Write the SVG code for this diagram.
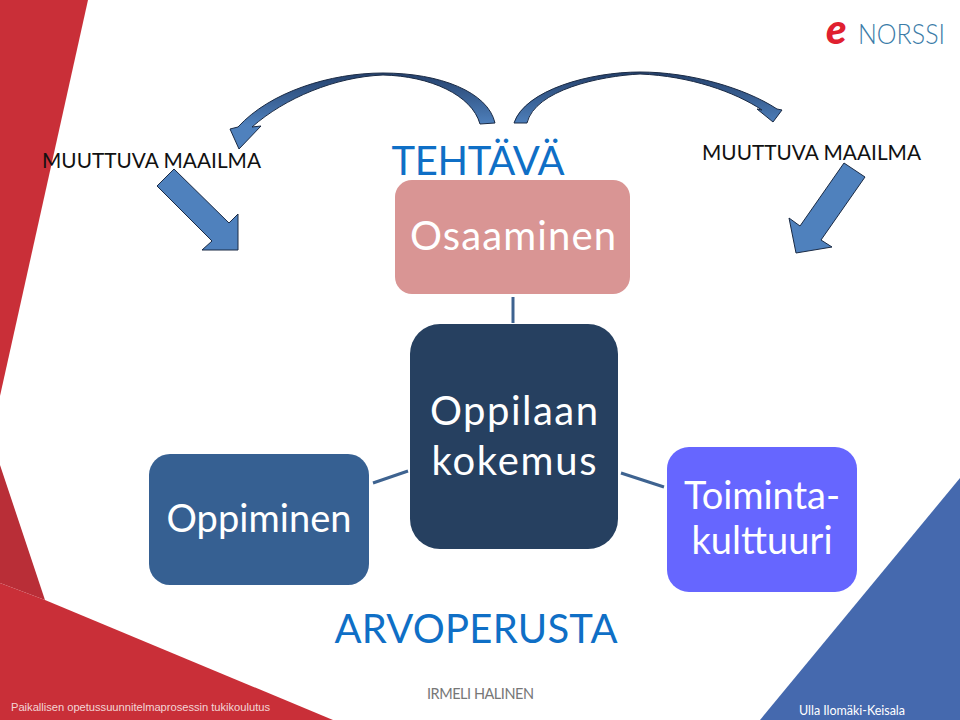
<svg xmlns="http://www.w3.org/2000/svg" width="960" height="720" viewBox="0 0 960 720">
<style>
text{font-family:"Lato","Carlito","Open Sans",sans-serif}
.n{fill:#fff;text-anchor:middle;font-size:40px}
.s{font-size:38px}
.h{fill:#0F6FC6;text-anchor:middle;font-size:40px}
.m{fill:#111;font-size:20.8px}
.a{stroke:#1a2a44;stroke-width:1}
.c{stroke:#3E6390;stroke-width:3;fill:none}
</style>
<defs>
<linearGradient id="g" gradientUnits="userSpaceOnUse" x1="0" y1="72" x2="0" y2="125">
<stop offset="0" stop-color="#24406B"/><stop offset="1" stop-color="#4F81BD"/>
</linearGradient>
</defs>
<rect width="960" height="720" fill="#fff"/>
<g id="background">
<polygon points="0,0 88,0 0,396" fill="#C92F38"/>
<polygon points="0,465 45,600 0,583" fill="#B92E37"/>
<polygon points="0,583 45,600 333,720 0,720" fill="#C92F38"/>
<polygon points="960,478 960,720 760,720" fill="#4569AE"/>
</g>
<g id="connectors">
<line class="c" x1="513" y1="297" x2="513" y2="323"/>
<line class="c" x1="373" y1="483" x2="408" y2="471"/>
<line class="c" x1="621" y1="473" x2="664" y2="487"/>
<path class="a" fill="url(#g)" d="M495,123 C488,92 440,73 383,73 C330,73 270,92 238,127 L230,129 L239,149 L261,126 L252,127 C285,98 335,77 383,75 C430,76 472,95 480,124 Z"/>
<path class="a" fill="url(#g)" d="M514,123 C525,90 590,72 640,72 C690,72 745,88 777,109 L782,110 L773,122 L757,109 L762,110 C735,92 690,76 640,74 C600,76 535,90 527,123 Z"/>
<polygon class="a" fill="#4F81BD" points="174,169 157,186 212,241 202,250 238,250 238,214 229,223"/>
<polygon class="a" fill="#4F81BD" points="844,163 865,177 821,240 832,247 796,253 789,218 800,226"/>
</g>
<g id="node-osaaminen">
<rect x="395" y="180" width="235" height="114" rx="17" fill="#D99594"/>
<text class="n" x="513" y="250" textLength="206">Osaaminen</text>
</g>
<g id="node-oppilaan">
<rect x="410" y="324" width="208" height="225" rx="30" fill="#264060"/>
<text class="n" x="514" y="425" textLength="168">Oppilaan</text>
<text class="n" x="514" y="475" textLength="165">kokemus</text>
</g>
<g id="node-oppiminen">
<rect x="149" y="454" width="220" height="131" rx="21" fill="#366092"/>
<text class="n s" x="259" y="532" textLength="185">Oppiminen</text>
</g>
<g id="node-toiminta">
<rect x="667" y="447" width="190" height="145" rx="22" fill="#6666FF"/>
<text class="n s" x="762" y="509" textLength="156">Toiminta-</text>
<text class="n s" x="762" y="554" textLength="141">kulttuuri</text>
</g>
<g id="labels">
<text class="h" x="478" y="175" textLength="173">TEHTÄVÄ</text>
<text class="h" x="476" y="643" textLength="283">ARVOPERUSTA</text>
<text class="m" x="42" y="168" textLength="219">MUUTTUVA MAAILMA</text>
<text class="m" x="702" y="160" textLength="219">MUUTTUVA MAAILMA</text>
<text x="427" y="699" font-size="14.5" fill="#777" textLength="107">IRMELI HALINEN</text>
<text x="799" y="715" font-size="12.5" fill="#fff" textLength="106">Ulla Ilomäki-Keisala</text>
<text x="11" y="711" font-size="11.2" fill="#F2D5D5" textLength="259" style="font-family:'Liberation Sans',sans-serif">Paikallisen opetussuunnitelmaprosessin tukikoulutus</text>
</g>
<g id="logo">
<text x="826" y="44" font-size="42" font-weight="900" font-style="italic" fill="#E0202F">e</text>
<text x="858" y="44" font-size="27" font-weight="300" fill="#3B7CA8" textLength="87" lengthAdjust="spacingAndGlyphs">NORSSI</text>
</g>
</svg>
